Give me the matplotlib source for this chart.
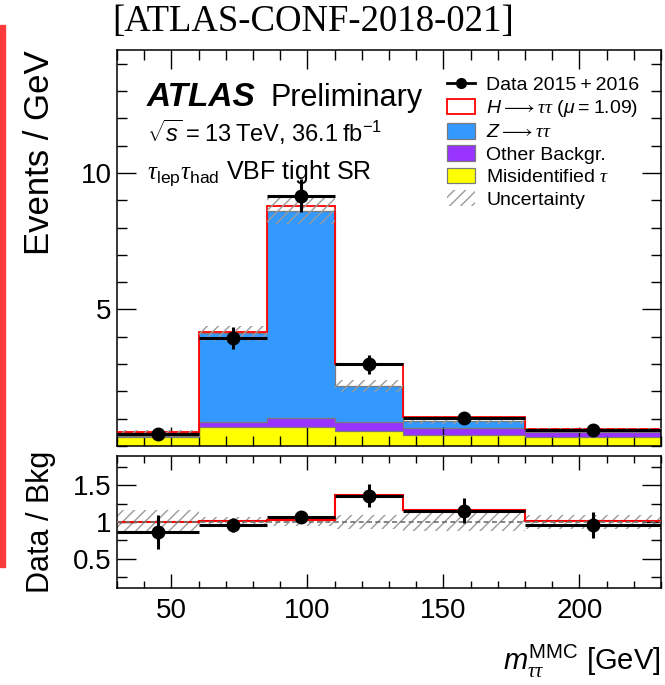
import numpy as np
import matplotlib
matplotlib.use("Agg")
import matplotlib.pyplot as plt
from matplotlib.patches import Patch, Rectangle
from matplotlib.lines import Line2D
from matplotlib.ticker import MultipleLocator

plt.rcParams['font.family'] = ['Liberation Sans', 'DejaVu Sans']
plt.rcParams['mathtext.fontset'] = 'custom'
plt.rcParams['mathtext.rm'] = 'Liberation Sans'
plt.rcParams['mathtext.it'] = 'Liberation Sans:italic'
plt.rcParams['mathtext.bf'] = 'Liberation Sans:bold'
# Greek letters in a serif italic face
plt.rcParams['mathtext.sf'] = 'Liberation Serif:italic'
plt.rcParams['hatch.linewidth'] = 1.0

# m_tautau^MMC binning [GeV]
bin_edges = [30, 60, 85, 110, 135, 180, 230]

# Events / GeV per bin
misid_tau = [0.33, 0.68, 0.71, 0.55, 0.40, 0.32]
other_bkg = [0.03, 0.19, 0.32, 0.32, 0.25, 0.20]
z_tautau = [0.15, 3.26, 7.57, 1.33, 0.25, 0.095]
h_tautau = [0.00, 0.04, 0.20, 0.80, 0.15, 0.01]
bkg_rel_unc = [0.17, 0.065, 0.055, 0.10, 0.12, 0.09]

data = [0.44, 3.94, 9.17, 2.99, 1.04, 0.59]
data_err = [0.12, 0.40, 0.61, 0.35, 0.15, 0.11]

edges = np.array(bin_edges, dtype=float)
centers = 0.5 * (edges[:-1] + edges[1:])
half_w = 0.5 * (edges[1:] - edges[:-1])
misid = np.array(misid_tau)
other = np.array(other_bkg)
ztt = np.array(z_tautau)
sig = np.array(h_tautau)
unc = np.array(bkg_rel_unc)
d = np.array(data)
derr = np.array(data_err)

b1 = misid
b2 = misid + other
bkg = b2 + ztt
tot = bkg + sig

c_yellow = '#ffff00'
c_purple = '#9933ff'
c_blue = '#3399ff'
c_red = '#ff0000'
c_edge = '#7a7a7a'
c_hatch = '#9a9a9a'

TAU = r'\mathsf{\tau}'
ARROW = r'\longrightarrow'
TS = '\u2009'  # thin space

fig = plt.figure(figsize=(6.65, 6.85), dpi=100)
W, H = 665.0, 685.0
ax = fig.add_axes([117 / W, 1 - 446 / H, (661 - 117) / W, (446 - 50) / H])
axr = fig.add_axes([117 / W, 1 - 588 / H, (661 - 117) / W, (588 - 456) / H])

# side bar
fig.patches.append(Rectangle((0, 1 - 567 / H), 5 / W, (567 - 25) / H,
                             transform=fig.transFigure, color='#ff3b3b', zorder=0))

# ---- main panel: stacked backgrounds
ax.stairs(b1, edges, baseline=0, fill=True, color=c_yellow, zorder=1)
ax.stairs(b2, edges, baseline=b1, fill=True, color=c_purple, zorder=1)
ax.stairs(bkg, edges, baseline=b2, fill=True, color=c_blue, zorder=1)
ax.stairs(tot, edges, baseline=bkg, fill=True, color='white', zorder=1)
for top in (b1, b2, bkg):
    ax.stairs(top, edges, baseline=None, color=c_edge, lw=0.9, zorder=2)
ax.stairs(tot, edges, baseline=None, color=c_red, lw=1.3, zorder=3)

# background uncertainty band
ax.stairs(bkg * (1 + unc), edges, baseline=bkg * (1 - unc), fill=True,
          facecolor='none', edgecolor=c_hatch, hatch='///', lw=0, zorder=4)

# data
ax.errorbar(centers, d, xerr=half_w, yerr=derr, fmt='o', color='black',
            ms=9, elinewidth=2.2, capsize=0, zorder=6)

ax.set_xlim(30, 230)
ax.set_ylim(0, 14.5)
ax.set_xticks([50, 100, 150, 200])
ax.xaxis.set_minor_locator(MultipleLocator(10))
ax.set_yticks([5, 10])
ax.yaxis.set_minor_locator(MultipleLocator(1))
ax.tick_params(which='both', direction='in', top=True, right=True, width=1.0,
               labelsize=20, pad=4)
ax.tick_params(which='major', length=14)
ax.tick_params(which='minor', length=7)
ax.tick_params(axis='x', labelbottom=False)
for s in ax.spines.values():
    s.set_linewidth(1.1)

ax.set_ylabel('Events / GeV', fontsize=25, loc='top')
ax.yaxis.set_label_coords(-0.112, 1.0)

# labels
ax.text(0.055, 0.859, 'ATLAS', transform=ax.transAxes, fontsize=24,
        fontweight='bold', fontstyle='italic', va='baseline', ha='left')
ax.text(0.283, 0.859, 'Preliminary', transform=ax.transAxes, fontsize=22,
        va='baseline', ha='left')
ax.text(0.055, 0.768,
        r'$\sqrt{s}$' + TS + '=' + TS + '13' + TS + 'TeV, 36.1' + TS + r'fb$^{-1}$',
        transform=ax.transAxes, fontsize=17, va='baseline', ha='left')
ax.text(0.055, 0.676,
        r'$' + TAU + r'_{\mathrm{lep}}' + TAU + r'_{\mathrm{had}}$ VBF tight SR',
        transform=ax.transAxes, fontsize=18, va='baseline', ha='left')

handles = [
    Line2D([], [], color='black', marker='o', ms=7, lw=2),
    Patch(facecolor='white', edgecolor=c_red, lw=1.3),
    Patch(facecolor=c_blue, edgecolor=c_edge, lw=0.9),
    Patch(facecolor=c_purple, edgecolor=c_edge, lw=0.9),
    Patch(facecolor=c_yellow, edgecolor=c_edge, lw=0.9),
    Patch(facecolor='none', edgecolor=c_hatch, hatch='///', lw=0),
]
labels = [
    'Data 2015' + TS + '+' + TS + '2016',
    r'$H' + ARROW + TAU + TAU + r'$ ($\mu$' + TS + '=' + TS + '1.09)',
    r'$Z' + ARROW + TAU + TAU + r'$',
    'Other Backgr.',
    r'Misidentified $' + TAU + r'$',
    'Uncertainty',
]
ax.legend(handles, labels, loc='upper left', bbox_to_anchor=(0.607, 0.935),
          frameon=False, fontsize=14, handlelength=1.45, handleheight=0.85,
          handletextpad=0.55, labelspacing=0.2, borderpad=0, borderaxespad=0)

# ---- ratio panel
ratio_tot = tot / bkg
ratio_d = d / bkg
ratio_err = derr / bkg

axr.stairs(1 + unc, edges, baseline=1 - unc, fill=True, facecolor='none',
           edgecolor=c_hatch, hatch='///', lw=0, zorder=1)
axr.stairs(ratio_tot, edges, baseline=None, color=c_red, lw=1.5, zorder=3)
axr.axhline(1.0, color='#707070', lw=1.2, ls=(0, (3, 2)), zorder=4)
axr.errorbar(centers, ratio_d, xerr=half_w, yerr=ratio_err, fmt='o',
             color='black', ms=9, elinewidth=2.2, capsize=0, zorder=5)

axr.set_xlim(30, 230)
axr.set_ylim(0.1, 1.9)
axr.set_xticks([50, 100, 150, 200])
axr.xaxis.set_minor_locator(MultipleLocator(10))
axr.set_yticks([0.5, 1, 1.5])
axr.set_yticklabels(['0.5', '1', '1.5'])
axr.yaxis.set_minor_locator(MultipleLocator(0.25))
axr.tick_params(which='both', direction='in', top=True, right=True, width=1.0,
                labelsize=20)
axr.tick_params(axis='y', which='major', length=14, pad=4)
axr.tick_params(axis='y', which='minor', length=7)
axr.tick_params(axis='x', which='major', length=10, pad=7)
axr.tick_params(axis='x', which='minor', length=5)
for s in axr.spines.values():
    s.set_linewidth(1.1)

axr.set_ylabel('Data / Bkg', fontsize=22)
axr.yaxis.set_label_coords(-0.112, 0.5)
axr.set_xlabel(r'$m_{' + TAU + TAU + r'}^{\mathrm{MMC}}$ [GeV]', fontsize=21,
               loc='right', labelpad=14)

fig.text(313 / W, 1 - 22 / H, '[ATLAS-CONF-2018-021]', ha='center', va='center',
         family='Liberation Serif', fontsize=26.5)

fig.savefig('out.png', dpi=100)
